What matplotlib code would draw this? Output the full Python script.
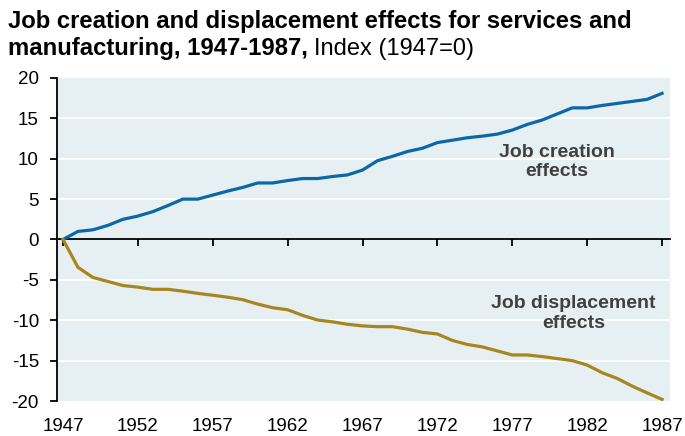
import matplotlib
matplotlib.use("Agg")
import matplotlib.pyplot as plt

years = list(range(1947, 1988))
creation = [0, 1.0, 1.2, 1.75, 2.5, 2.9, 3.45, 4.2, 5.0, 5.0,
            5.5, 6.0, 6.45, 7.0, 7.0, 7.3, 7.55, 7.55, 7.8, 8.0,
            8.6, 9.76, 10.3, 10.9, 11.3, 12.0, 12.3, 12.6, 12.8, 13.05,
            13.55, 14.25, 14.8, 15.55, 16.3, 16.3, 16.6, 16.85, 17.1, 17.35,
            18.1]
displacement = [0, -3.45, -4.7, -5.2, -5.7, -5.9, -6.17, -6.17, -6.4, -6.67,
                -6.9, -7.15, -7.45, -8.0, -8.45, -8.7, -9.4, -9.97, -10.2, -10.5,
                -10.7, -10.8, -10.8, -11.1, -11.5, -11.7, -12.5, -13.0, -13.3, -13.8,
                -14.3, -14.3, -14.5, -14.75, -15.0, -15.55, -16.5, -17.2, -18.15, -19.0,
                -19.8]
xticks = [1947, 1952, 1957, 1962, 1967, 1972, 1977, 1982, 1987]
yticks = [-20, -15, -10, -5, 0, 5, 10, 15, 20]

plt.rcParams['font.family'] = ['Liberation Sans', 'DejaVu Sans']

W, H = 685, 436
fig = plt.figure(figsize=(W / 100, H / 100), dpi=100)
ax = fig.add_axes([57 / W, (H - 401) / H, (670 - 57) / W, (401 - 78) / H])
ax.set_facecolor('#E6EFF2')

ax.plot(years, creation, color='#0B68A6', lw=2.3, solid_joinstyle='round', zorder=4)
ax.plot(years, displacement, color='#A8861F', lw=2.3, solid_joinstyle='round', zorder=4)

ax.set_xlim(1946.6, 1987.53)
ax.set_ylim(-20, 20)

for v in yticks:
    if v not in (0, -20, 20):
        ax.axhline(v, color='white', lw=1.3, zorder=1)

for s in ['top', 'right']:
    ax.spines[s].set_visible(False)
ax.spines['bottom'].set_position(('data', 0))
ax.spines['bottom'].set_linewidth(1.3)
ax.spines['bottom'].set_zorder(3)
ax.spines['left'].set_linewidth(1.3)

ax.set_yticks(yticks)
ax.set_yticklabels([str(v) for v in yticks])
ax.tick_params(axis='y', direction='out', length=5, width=1.3, labelsize=13.5, pad=8)
ax.set_xticks(xticks)
ax.tick_params(axis='x', direction='out', length=5, width=1.3, labelbottom=False)

sec = ax.secondary_xaxis('bottom')
sec.set_xticks(xticks)
sec.set_xticklabels([str(v) for v in xticks])
sec.tick_params(axis='x', length=0, labelsize=13.5, pad=12)
sec.spines['bottom'].set_visible(False)

ax.text(1980.0, 9.6, 'Job creation\neffects', ha='center', va='center',
        fontsize=14, fontweight='bold', color='#404040', linespacing=1.2, zorder=5)
ax.text(1981.1, -9.14, 'Job displacement\neffects', ha='center', va='center',
        fontsize=14, fontweight='bold', color='#404040', linespacing=1.2, zorder=5)

fig.text(8 / W, 1 - 28 / H, 'Job creation and displacement effects for services and',
         fontsize=17.2, fontweight='bold', ha='left', va='baseline')
t2 = fig.text(8 / W, 1 - 55 / H, 'manufacturing, 1947-1987,', fontsize=17.2,
              fontweight='bold', ha='left', va='baseline')
fig.canvas.draw()
bb = t2.get_window_extent()
fig.text((bb.x1 + 6) / W, 1 - 55 / H, 'Index (1947=0)', fontsize=17,
         ha='left', va='baseline')

fig.savefig('out.png', dpi=100)
